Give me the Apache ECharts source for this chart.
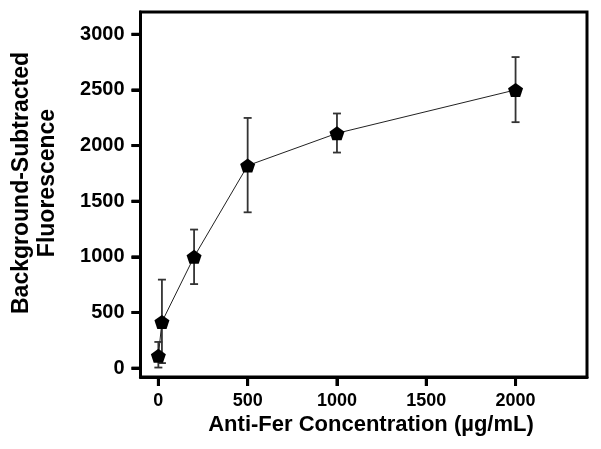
<!DOCTYPE html>
<html>
<head>
<meta charset="utf-8">
<script src="https://cdn.jsdelivr.net/npm/echarts@6/dist/echarts.min.js"></script>
<style>
html,body{margin:0;padding:0;background:#fff;}
#chart{width:601px;height:449px;}
</style>
</head>
<body>
<div id="chart"></div>
<script>
// Data
var concentrations = [0, 20, 200, 500, 1000, 2000];
var fluorescence   = [110, 415, 1000, 1820, 2110, 2500];
var errLow         = [5, 45, 755, 1400, 1937, 2210];
var errHigh        = [235, 795, 1245, 2248, 2288, 2795];
var xTicks = [0, 500, 1000, 1500, 2000];
var yTicks = [0, 500, 1000, 1500, 2000, 2500, 3000];
var xRange = [-100, 2400];
var yRange = [-80, 3200];
var xTitle = 'Anti-Fer Concentration (\u00b5g/mL)';
var yTitle = 'Background-Subtracted\nFluorescence';

var font = '"Liberation Sans", Arial, sans-serif';
var chart = echarts.init(document.getElementById('chart'), null, {renderer: 'canvas'});

var pointData = concentrations.map(function (c, i) { return [c, fluorescence[i]]; });
var errData = concentrations.map(function (c, i) { return [c, errLow[i], errHigh[i]]; });

function plain(v) { return String(v); }
var TICK_LEN = 9;

var titleGraphics = [
  {
    id: 'xTitle', type: 'text', x: 371, y: 425,
    style: {text: xTitle, fill: '#000', font: 'bold 22px ' + font, textAlign: 'center', textVerticalAlign: 'middle'}
  },
  {
    id: 'yTitle', type: 'text', x: 35, y: 183, rotation: Math.PI / 2,
    style: {text: yTitle, fill: '#000', font: 'bold 23px ' + font, textAlign: 'center', textVerticalAlign: 'middle', lineHeight: 26}
  }
];

var option = {
  animation: false,
  backgroundColor: '#fff',
  grid: {
    left: 140.5, top: 12, width: 446.5, height: 365,
    show: true, borderColor: '#000', borderWidth: 3, backgroundColor: 'transparent',
    containLabel: false
  },
  xAxis: {
    type: 'value', min: xRange[0], max: xRange[1],
    splitLine: {show: false},
    axisLine: {show: true, onZero: false, lineStyle: {color: '#000', width: 3}},
    axisTick: {show: true, length: TICK_LEN, lineStyle: {color: '#000', width: 3}, customValues: xTicks},
    axisLabel: {show: true, customValues: xTicks, formatter: plain, color: '#000', fontFamily: font, fontWeight: 'bold', fontSize: 18, margin: 15}
  },
  yAxis: {
    type: 'value', min: yRange[0], max: yRange[1],
    splitLine: {show: false},
    axisLine: {show: true, onZero: false, lineStyle: {color: '#000', width: 3}},
    axisTick: {show: true, length: TICK_LEN, lineStyle: {color: '#000', width: 3}, customValues: yTicks},
    axisLabel: {show: true, customValues: yTicks, formatter: plain, color: '#000', fontFamily: font, fontWeight: 'bold', fontSize: 20, margin: 16}
  },
  graphic: titleGraphics,
  series: [
    {
      type: 'custom',
      z: 1,
      data: errData,
      renderItem: function (params, api) {
        var x = api.value(0);
        var lo = api.coord([x, api.value(1)]);
        var hi = api.coord([x, api.value(2)]);
        var hw = 4;
        var st = {stroke: '#333', lineWidth: 1.8};
        return {
          type: 'group',
          children: [
            {type: 'line', shape: {x1: hi[0], y1: hi[1], x2: lo[0], y2: lo[1]}, style: st},
            {type: 'line', shape: {x1: hi[0] - hw, y1: hi[1], x2: hi[0] + hw, y2: hi[1]}, style: st},
            {type: 'line', shape: {x1: lo[0] - hw, y1: lo[1], x2: lo[0] + hw, y2: lo[1]}, style: st}
          ]
        };
      }
    },
    {
      type: 'line',
      z: 3,
      data: pointData,
      symbol: 'path://M0,-1 L0.951,-0.309 L0.588,0.809 L-0.588,0.809 L-0.951,-0.309 Z',
      symbolSize: [15, 14],
      showAllSymbol: true,
      lineStyle: {color: '#222', width: 1},
      itemStyle: {color: '#000', borderWidth: 0}
    }
  ]
};
chart.setOption(option);

// Outward tick marks placed through the chart's own scales
var tickGraphics = [];
xTicks.forEach(function (v, i) {
  var p = chart.convertToPixel({gridIndex: 0}, [v, yRange[0]]);
  if (p) {
    tickGraphics.push({id: 'xt' + i, type: 'line', z: 100,
      shape: {x1: p[0], y1: p[1], x2: p[0], y2: p[1] + TICK_LEN},
      style: {stroke: '#000', lineWidth: 3}});
  }
});
yTicks.forEach(function (v, i) {
  var p = chart.convertToPixel({gridIndex: 0}, [xRange[0], v]);
  if (p) {
    tickGraphics.push({id: 'yt' + i, type: 'line', z: 100,
      shape: {x1: p[0], y1: p[1], x2: p[0] - TICK_LEN, y2: p[1]},
      style: {stroke: '#000', lineWidth: 3}});
  }
});
chart.setOption({graphic: titleGraphics.concat(tickGraphics)});
</script>
</body>
</html>
